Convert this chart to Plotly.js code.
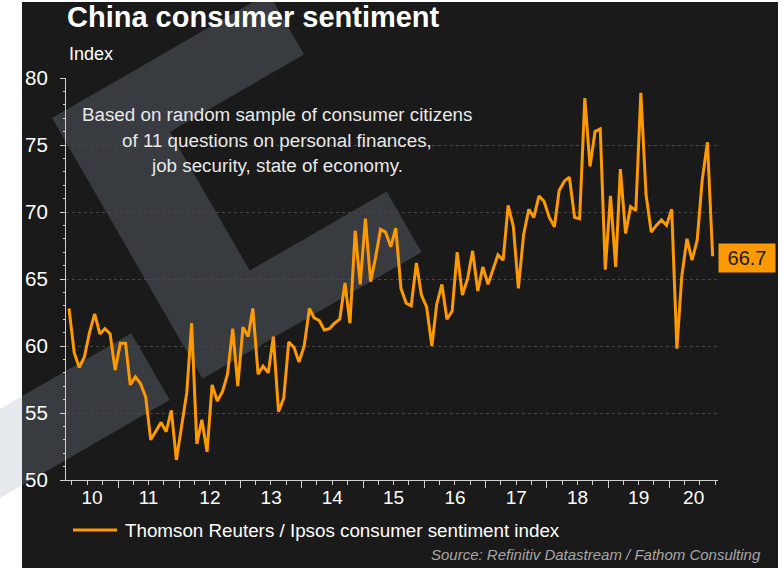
<!DOCTYPE html>
<html><head><meta charset="utf-8">
<script src="https://cdn.plot.ly/plotly-3.0.1.min.js"></script>
<style>html,body{margin:0;padding:0;background:#fff;}#chart{width:783px;height:570px;}</style>
</head><body><div id="chart"></div>
<script>
// ---- data (monthly, first value = March 2010) ----
const startYear = 2010;
const startMonth = 3;
const sentiment = [
  62.8, 59.5, 58.4, 59.2, 61.0, 62.4, 60.9, 61.3, 60.9, 58.2,
  60.2, 60.2, 57.1, 57.7, 57.2, 56.2, 53.0, 53.6, 54.3, 53.6, 55.2, 51.5,
  54.0, 56.5, 61.7, 52.7, 54.5, 52.1, 57.1, 55.9, 56.6, 57.9, 61.3, 57.0,
  61.4, 60.7, 62.8, 57.9, 58.5, 58.0, 60.7, 55.1, 56.1, 60.3, 59.9, 58.8,
  60.0, 62.8, 62.1, 61.9, 61.2, 61.3, 61.7, 62.0, 64.7, 61.7, 68.6, 64.6,
  69.5, 64.8, 66.5, 68.7, 68.5, 67.4, 68.8, 64.3, 63.2, 63.0, 66.2, 63.8,
  62.9, 60.0, 63.1, 64.6, 62.0, 62.6, 67.0, 63.8, 65.0, 67.1, 64.1, 65.9,
  64.6, 65.7, 66.8, 66.4, 70.5, 68.9, 64.3, 68.3, 70.2, 69.6, 71.2, 70.8,
  69.6, 68.9, 71.6, 72.3, 72.6, 69.6, 69.5, 78.5, 73.4, 76.0, 76.2, 65.7,
  71.2, 65.9, 73.2, 68.4, 70.4, 70.1, 78.9, 71.3, 68.5, 69.0, 69.4, 69.0,
  70.2, 59.8, 65.2, 68.0, 66.4, 67.9, 72.4, 75.2, 66.7
];
const years = [2010, 2011, 2012, 2013, 2014, 2015, 2016, 2017, 2018, 2019, 2020];
const yearLabels = ['10', '11', '12', '13', '14', '15', '16', '17', '18', '19', '20'];
const xRange = ['2010-02-25', '2020-10-17'];
const seriesName = 'Thomson Reuters / Ipsos consumer sentiment index';
const titleText = 'China consumer sentiment';
const unitText = 'Index';
const noteLines = ['Based on random sample of consumer citizens',
                   'of 11 questions on personal finances,',
                   'job security, state of economy.'];
const sourceText = 'Source: Refinitiv Datastream / Fathom Consulting';
const lastValueLabel = '66.7';

// monthly observations placed mid-month
const dates = [];
{ let y = startYear, m = startMonth;
  for (let i = 0; i < sentiment.length; i++) {
    dates.push(y + '-' + String(m).padStart(2, '0') + '-15');
    m++; if (m > 12) { m = 1; y++; }
  } }

// year boundaries and label positions (centre of the visible part of each year)
const yearStarts = years.map(y => y + '-01-01');
const t0 = Date.parse(xRange[0]), t1 = Date.parse(xRange[1]);
const labelPos = years.map(y => {
  const a = Math.max(Date.UTC(y, 0, 1), t0), b = Math.min(Date.UTC(y + 1, 0, 1), t1);
  return new Date((a + b) / 2).toISOString().slice(0, 10);
});

// ---- geometry helpers (pixel -> paper) ----
const W = 783, H = 570, L = 66, R = 65, T = 78, B = 90;
const pw = W - L - R, ph = H - T - B;
const px = x => (x - L) / pw;
const py = y => (H - B - y) / ph;
const FONT = 'Liberation Sans, Arial, sans-serif';
const ORANGE = '#ff9900';
const BG = '#1a1a1a';
const WM = '#383b3f';

// watermark frame (rotated logo)
const fr = (u, v) => [52 + 0.866 * u + 0.5 * v, 118 - 0.5 * u + 0.866 * v];
const pathOf = pts => 'M' + pts.map(p => px(p[0]).toFixed(5) + ',' + py(p[1]).toFixed(5)).join('L') + 'Z';
const logoPts = [[0,0],[250,0],[250,71],[95,71],[95,231],[253,231],[253,301],[0,301]].map(p => fr(p[0], p[1]));
const lb = (c, x) => [x, 118 + (c - 0.5 * (x - 52)) / 0.866];
const leftBar = [lb(226, 22), fr(-39, 226), fr(-39, 303), lb(303, 22)];
const leftPale = [lb(226, 0), lb(226, 22), lb(303, 22), lb(303, 0)];

const shapes = [
  {type:'rect', xref:'paper', yref:'paper', x0:px(22), x1:px(778), y0:py(568), y1:py(2), fillcolor:BG, line:{width:0}, layer:'below'},
  {type:'path', xref:'paper', yref:'paper', path:pathOf(logoPts), fillcolor:WM, line:{width:0}, layer:'below'},
  {type:'path', xref:'paper', yref:'paper', path:pathOf(leftBar), fillcolor:WM, line:{width:0}, layer:'below'},
  {type:'path', xref:'paper', yref:'paper', path:pathOf(leftPale), fillcolor:'#e6eaee', line:{width:0}, layer:'below'},
  {type:'rect', xref:'paper', yref:'paper', x0:px(0), x1:px(783), y0:py(2), y1:py(0), fillcolor:'#ffffff', line:{width:0}, layer:'below'},
  // legend sample line
  {type:'line', xref:'paper', yref:'paper', x0:px(73), x1:px(117), y0:py(530), y1:py(530), line:{color:ORANGE, width:3}}
];

const annotations = [
  {xref:'paper', yref:'paper', x:px(67), y:py(54), xanchor:'left', yanchor:'middle', text:unitText, showarrow:false, font:{family:FONT, size:18, color:'#ffffff'}},
  ...noteLines.map((t, i) => ({xref:'paper', yref:'paper', x:px(277), y:py(115 + 25 * i), xanchor:'center', yanchor:'middle', text:t, showarrow:false, font:{family:FONT, size:18.8, color:'#e8e8e8'}})),
  {xref:'paper', yref:'paper', x:px(123), y:py(530), xanchor:'left', yanchor:'middle', text:seriesName, showarrow:false, font:{family:FONT, size:18.8, color:'#ffffff'}},
  {xref:'paper', yref:'paper', x:px(763), y:py(554), xanchor:'right', yanchor:'middle', text:sourceText, showarrow:false, font:{family:FONT, size:15, color:'#a6a6a6', style:'italic'}},
  {xref:'paper', yref:'y', x:1, y:sentiment[sentiment.length - 1], xanchor:'left', yanchor:'middle', yshift:-2, text:lastValueLabel, showarrow:false, bgcolor:ORANGE, width:52, height:24, borderpad:2, font:{family:FONT, size:20, color:'#1a1a1a'}}
];

const trace = {x:dates, y:sentiment, type:'scatter', mode:'lines', name:seriesName, line:{color:ORANGE, width:3}, hoverinfo:'x+y'};
// empty helper trace so the year-label axis (x2) is drawn
const labelAxisTrace = {x:[], y:[], type:'scatter', mode:'lines', xaxis:'x2', yaxis:'y', showlegend:false, hoverinfo:'skip'};

const layout = {
  width:W, height:H, margin:{l:L, r:R, t:T, b:B, pad:0},
  paper_bgcolor:'#ffffff', plot_bgcolor:'rgba(0,0,0,0)',
  showlegend:false,
  font:{family:FONT, color:'#ffffff'},
  title:{text:titleText, x:67 / W, xanchor:'left', xref:'container', y:1 - 17 / H, yanchor:'middle', yref:'container', font:{family:FONT, size:29, weight:'bold', color:'#ffffff'}},
  xaxis:{type:'date', range:xRange, tickmode:'array', tickvals:yearStarts, showticklabels:false,
         ticks:'outside', ticklen:7, tickwidth:1, tickcolor:'#d0d0d0', showline:true, linecolor:'#d0d0d0', linewidth:1,
         showgrid:false, zeroline:false,
         minor:{tick0:'2010-01-01', dtick:'M3', ticks:'outside', ticklen:4, tickcolor:'#d0d0d0', showgrid:false}},
  xaxis2:{type:'date', range:xRange, overlaying:'x', anchor:'y', side:'bottom', tickmode:'array', tickvals:labelPos, ticktext:yearLabels,
          ticks:'', showline:false, showgrid:false, zeroline:false, ticklabelstandoff:4,
          tickfont:{family:FONT, size:19, color:'#ffffff'}},
  yaxis:{range:[50, 80], dtick:5, tick0:50, ticks:'outside', ticklen:5, tickwidth:1, tickcolor:'#d0d0d0', showline:true, linecolor:'#d0d0d0', linewidth:1,
         showgrid:true, gridcolor:'#474747', griddash:'dot', gridwidth:1, zeroline:false, ticklabelstandoff:8,
         tickfont:{family:FONT, size:20.5, color:'#ffffff'},
         minor:{dtick:1, ticks:'outside', ticklen:2.5, tickcolor:'#d0d0d0', showgrid:false}},
  shapes:shapes, annotations:annotations
};

Plotly.newPlot('chart', [trace, labelAxisTrace], layout, {displayModeBar:false, responsive:false});
</script>
</body></html>
